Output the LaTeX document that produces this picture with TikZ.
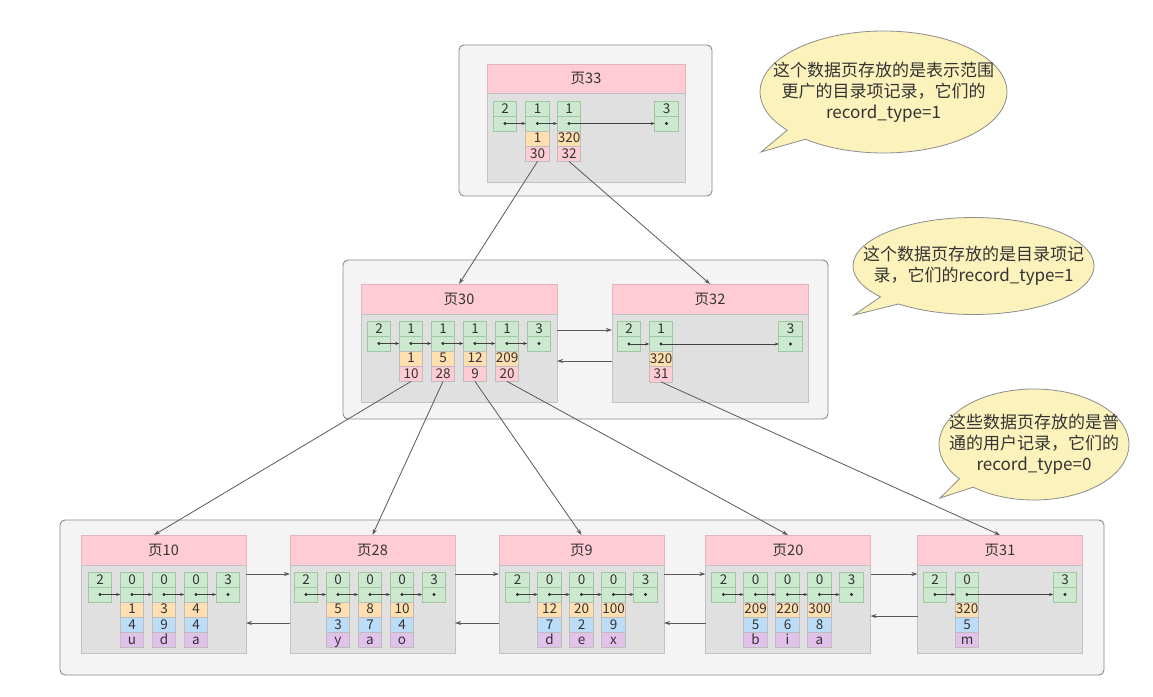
\documentclass[tikz,border=0pt]{standalone}
\usepackage{fontspec}
\setmainfont{Noto Sans CJK SC}
\usetikzlibrary{arrows.meta,positioning,shapes.multipart,shapes.callouts}
\definecolor{ink}{HTML}{333333}
\definecolor{wire}{HTML}{595959}
\definecolor{tierfill}{HTML}{F4F4F4}
\definecolor{tierline}{HTML}{8A8A8A}
\definecolor{headfill}{HTML}{FFCCD5}
\definecolor{headline}{HTML}{E3B4BD}
\definecolor{bodyfill}{HTML}{E0E0E0}
\definecolor{bodyline}{HTML}{C2C2C2}
\definecolor{recfill}{HTML}{CCE8CE}
\definecolor{recline}{HTML}{9FC8A2}
\definecolor{keyfill}{HTML}{FFDFB0}
\definecolor{pagefill}{HTML}{FFCCD5}
\definecolor{colfill}{HTML}{BCDDF8}
\definecolor{strfill}{HTML}{E2C2EA}
\definecolor{cellline}{HTML}{BDBDBD}
\definecolor{notefill}{HTML}{FBF2BC}
\definecolor{noteline}{HTML}{8C8C8C}
% fixed height of one value row
\newcommand\rowstrut{\rule[-3pt]{0pt}{14.5pt}}

\begin{document}
\begin{tikzpicture}[
  x=1pt, y=-1pt,
  font=\fontsize{13.5}{15}\selectfont, text=ink,
  tier/.style={draw=tierline, fill=tierfill, rounded corners=5pt, line width=0.9pt, inner sep=0pt},
  pghead/.style={draw=headline, fill=headfill, line width=0.8pt, inner sep=0pt, outer sep=0pt, minimum height=30, font=\fontsize{14.5}{16}\selectfont},
  pgbody/.style={draw=bodyline, fill=bodyfill, line width=0.8pt, inner sep=0pt, outer sep=0pt, minimum height=88},
  rectype/.style={draw=recline, fill=recfill, line width=0.7pt, inner sep=0pt, outer sep=0pt, minimum width=23.5, minimum height=15},
  recnext/.style={rectype, path picture={\fill[black!85] (path picture bounding box.center) circle (1.7);}},
  dirrec/.style={rectangle split, rectangle split parts=2, rectangle split part fill={keyfill,pagefill}, draw=cellline, line width=0.7pt, inner sep=0pt, outer sep=0pt, minimum width=23.5},
  userrec/.style={dirrec, rectangle split parts=3, rectangle split part fill={keyfill,colfill,strfill}},
  nextptr/.style={draw=black!75, line width=0.7pt, -{Stealth[length=4pt,width=3pt]}},
  pgptr/.style={draw=wire, line width=0.8pt, -{Stealth[length=6pt,width=4pt]}},
  bubble/.style={ellipse callout, draw=noteline, fill=notefill, line width=0.8pt, inner sep=0pt, callout pointer arc=12},
  bubbletext/.style={font=\fontsize{17}{21}\selectfont, align=center, text=ink}
]
\path[fill=white, use as bounding box] (0,0) rectangle (1153,696);

% levels
\node[tier, minimum width=253, minimum height=151] (tier2) at (585.5,120.5) {};
\node[tier, minimum width=485, minimum height=159] (tier1) at (585.5,339.5) {};
\node[tier, minimum width=1044, minimum height=155] (tier0) at (582,597.5) {};

% notes
\node[bubble, minimum width=247, minimum height=122, callout absolute pointer={(761,152)},
  label={[bubbletext]center:{这个数据页存放的是表示范围\\更广的目录项记录，它们的\\record\_type=1}}] (note2) at (883.5,92) {};
\node[bubble, minimum width=241, minimum height=97, callout absolute pointer={(854,315)},
  label={[bubbletext]center:{这个数据页存放的是目录项记\\录，它们的record\_type=1}}] (note1) at (973.5,266) {};
\node[bubble, minimum width=190, minimum height=111, callout absolute pointer={(940,498)},
  label={[bubbletext]center:{这些数据页存放的是普\\通的用户记录，它们的\\record\_type=0}}] (note0) at (1034,444.5) {};

% page 33
\node[pghead, minimum width=198, minimum height=29] (h33) at (586,78.5) {页33};
\node[pgbody, minimum width=198, minimum height=89, below=0pt of h33] (b33) {};
\node[rectype] (t33a) at (505,108.5) {2};
\node[rectype] (t33b) at (537.5,108.5) {1};
\node[rectype] (t33c) at (569,108.5) {1};
\node[rectype] (t33d) at (666.5,108.5) {3};
\node[recnext, below=0pt of t33a] (n33a) {};
\node[recnext, below=0pt of t33b] (n33b) {};
\node[recnext, below=0pt of t33c] (n33c) {};
\node[recnext, below=0pt of t33d] (n33d) {};
\node[dirrec, below=0pt of n33b] (d33b) {\rowstrut 1\nodepart{two}\rowstrut 30};
\node[dirrec, below=0pt of n33c] (d33c) {\rowstrut 320\nodepart{two}\rowstrut 32};
\draw[nextptr] (n33a.center) -- (n33b.west);
\draw[nextptr] (n33b.center) -- (n33c.west);
\draw[nextptr] (n33c.center) -- (n33d.west);

% page 30
\node[pghead, minimum width=196] (h30) at (459,299) {页30};
\node[pgbody, minimum width=196, below=0pt of h30] (b30) {};
\node[rectype] (t30a) at (379,328.5) {2};
\node[rectype, right=8.5pt of t30a] (t30b) {1};
\node[rectype, right=8.5pt of t30b] (t30c) {1};
\node[rectype, right=8.5pt of t30c] (t30d) {1};
\node[rectype, right=8.5pt of t30d] (t30e) {1};
\node[rectype, right=8.5pt of t30e] (t30f) {3};
\node[recnext, below=0pt of t30a] (n30a) {};
\node[recnext, below=0pt of t30b] (n30b) {};
\node[recnext, below=0pt of t30c] (n30c) {};
\node[recnext, below=0pt of t30d] (n30d) {};
\node[recnext, below=0pt of t30e] (n30e) {};
\node[recnext, below=0pt of t30f] (n30f) {};
\node[dirrec, below=0pt of n30b] (d30b) {\rowstrut 1\nodepart{two}\rowstrut 10};
\node[dirrec, below=0pt of n30c] (d30c) {\rowstrut 5\nodepart{two}\rowstrut 28};
\node[dirrec, below=0pt of n30d] (d30d) {\rowstrut 12\nodepart{two}\rowstrut 9};
\node[dirrec, below=0pt of n30e] (d30e) {\rowstrut 209\nodepart{two}\rowstrut 20};
\draw[nextptr] (n30a.center) -- (n30b.west);
\draw[nextptr] (n30b.center) -- (n30c.west);
\draw[nextptr] (n30c.center) -- (n30d.west);
\draw[nextptr] (n30d.center) -- (n30e.west);
\draw[nextptr] (n30e.center) -- (n30f.west);

% page 32
\node[pghead, minimum width=196] (h32) at (710,299) {页32};
\node[pgbody, minimum width=196, below=0pt of h32] (b32) {};
\node[rectype] (t32a) at (629,329) {2};
\node[rectype, right=8.5pt of t32a] (t32b) {1};
\node[rectype] (t32c) at (790.5,329) {3};
\node[recnext, below=0pt of t32a] (n32a) {};
\node[recnext, below=0pt of t32b] (n32b) {};
\node[recnext, below=0pt of t32c] (n32c) {};
\node[dirrec, below=0pt of n32b] (d32b) {\rowstrut 320\nodepart{two}\rowstrut 31};
\draw[nextptr] (n32a.center) -- (n32b.west);
\draw[nextptr] (n32b.center) -- (n32c.west);

% page 10
\node[pghead, minimum width=165] (h10) at (163.5,550) {页10};
\node[pgbody, minimum width=165, below=0pt of h10] (b10) {};
\node[rectype] (t10a) at (100,579.5) {2};
\node[rectype, right=8.5pt of t10a] (t10b) {0};
\node[rectype, right=8.5pt of t10b] (t10c) {0};
\node[rectype, right=8.5pt of t10c] (t10d) {0};
\node[rectype, right=8.5pt of t10d] (t10e) {3};
\node[recnext, below=0pt of t10a] (n10a) {};
\node[recnext, below=0pt of t10b] (n10b) {};
\node[recnext, below=0pt of t10c] (n10c) {};
\node[recnext, below=0pt of t10d] (n10d) {};
\node[recnext, below=0pt of t10e] (n10e) {};
\node[userrec, below=0pt of n10b] (d10b) {\rowstrut 1\nodepart{two}\rowstrut 4\nodepart{three}\rowstrut u};
\node[userrec, below=0pt of n10c] (d10c) {\rowstrut 3\nodepart{two}\rowstrut 9\nodepart{three}\rowstrut d};
\node[userrec, below=0pt of n10d] (d10d) {\rowstrut 4\nodepart{two}\rowstrut 4\nodepart{three}\rowstrut a};
\draw[nextptr] (n10a.center) -- (n10b.west);
\draw[nextptr] (n10b.center) -- (n10c.west);
\draw[nextptr] (n10c.center) -- (n10d.west);
\draw[nextptr] (n10d.center) -- (n10e.west);

% page 28
\node[pghead, minimum width=165] (h28) at (372.5,550) {页28};
\node[pgbody, minimum width=165, below=0pt of h28] (b28) {};
\node[rectype] (t28a) at (306,579.5) {2};
\node[rectype, right=8.5pt of t28a] (t28b) {0};
\node[rectype, right=8.5pt of t28b] (t28c) {0};
\node[rectype, right=8.5pt of t28c] (t28d) {0};
\node[rectype, right=8.5pt of t28d] (t28e) {3};
\node[recnext, below=0pt of t28a] (n28a) {};
\node[recnext, below=0pt of t28b] (n28b) {};
\node[recnext, below=0pt of t28c] (n28c) {};
\node[recnext, below=0pt of t28d] (n28d) {};
\node[recnext, below=0pt of t28e] (n28e) {};
\node[userrec, below=0pt of n28b] (d28b) {\rowstrut 5\nodepart{two}\rowstrut 3\nodepart{three}\rowstrut y};
\node[userrec, below=0pt of n28c] (d28c) {\rowstrut 8\nodepart{two}\rowstrut 7\nodepart{three}\rowstrut a};
\node[userrec, below=0pt of n28d] (d28d) {\rowstrut 10\nodepart{two}\rowstrut 4\nodepart{three}\rowstrut o};
\draw[nextptr] (n28a.center) -- (n28b.west);
\draw[nextptr] (n28b.center) -- (n28c.west);
\draw[nextptr] (n28c.center) -- (n28d.west);
\draw[nextptr] (n28d.center) -- (n28e.west);

% page 9
\node[pghead, minimum width=165] (h9) at (581.5,550) {页9};
\node[pgbody, minimum width=165, below=0pt of h9] (b9) {};
\node[rectype] (t9a) at (517.5,579.5) {2};
\node[rectype, right=8.5pt of t9a] (t9b) {0};
\node[rectype, right=8.5pt of t9b] (t9c) {0};
\node[rectype, right=8.5pt of t9c] (t9d) {0};
\node[rectype, right=8.5pt of t9d] (t9e) {3};
\node[recnext, below=0pt of t9a] (n9a) {};
\node[recnext, below=0pt of t9b] (n9b) {};
\node[recnext, below=0pt of t9c] (n9c) {};
\node[recnext, below=0pt of t9d] (n9d) {};
\node[recnext, below=0pt of t9e] (n9e) {};
\node[userrec, below=0pt of n9b] (d9b) {\rowstrut 12\nodepart{two}\rowstrut 7\nodepart{three}\rowstrut d};
\node[userrec, below=0pt of n9c] (d9c) {\rowstrut 20\nodepart{two}\rowstrut 2\nodepart{three}\rowstrut e};
\node[userrec, below=0pt of n9d] (d9d) {\rowstrut 100\nodepart{two}\rowstrut 9\nodepart{three}\rowstrut x};
\draw[nextptr] (n9a.center) -- (n9b.west);
\draw[nextptr] (n9b.center) -- (n9c.west);
\draw[nextptr] (n9c.center) -- (n9d.west);
\draw[nextptr] (n9d.center) -- (n9e.west);

% page 20
\node[pghead, minimum width=165] (h20) at (788,550) {页20};
\node[pgbody, minimum width=165, below=0pt of h20] (b20) {};
\node[rectype] (t20a) at (723.5,579.5) {2};
\node[rectype, right=8.5pt of t20a] (t20b) {0};
\node[rectype, right=8.5pt of t20b] (t20c) {0};
\node[rectype, right=8.5pt of t20c] (t20d) {0};
\node[rectype, right=8.5pt of t20d] (t20e) {3};
\node[recnext, below=0pt of t20a] (n20a) {};
\node[recnext, below=0pt of t20b] (n20b) {};
\node[recnext, below=0pt of t20c] (n20c) {};
\node[recnext, below=0pt of t20d] (n20d) {};
\node[recnext, below=0pt of t20e] (n20e) {};
\node[userrec, below=0pt of n20b] (d20b) {\rowstrut 209\nodepart{two}\rowstrut 5\nodepart{three}\rowstrut b};
\node[userrec, below=0pt of n20c] (d20c) {\rowstrut 220\nodepart{two}\rowstrut 6\nodepart{three}\rowstrut i};
\node[userrec, below=0pt of n20d] (d20d) {\rowstrut 300\nodepart{two}\rowstrut 8\nodepart{three}\rowstrut a};
\draw[nextptr] (n20a.center) -- (n20b.west);
\draw[nextptr] (n20b.center) -- (n20c.west);
\draw[nextptr] (n20c.center) -- (n20d.west);
\draw[nextptr] (n20d.center) -- (n20e.west);

% page 31
\node[pghead, minimum width=165] (h31) at (1000,550) {页31};
\node[pgbody, minimum width=165, below=0pt of h31] (b31) {};
\node[rectype] (t31a) at (935,579.5) {2};
\node[rectype, right=8.5pt of t31a] (t31b) {0};
\node[rectype] (t31c) at (1065,579.5) {3};
\node[recnext, below=0pt of t31a] (n31a) {};
\node[recnext, below=0pt of t31b] (n31b) {};
\node[recnext, below=0pt of t31c] (n31c) {};
\node[userrec, below=0pt of n31b] (d31b) {\rowstrut 320\nodepart{two}\rowstrut 5\nodepart{three}\rowstrut m};
\draw[nextptr] (n31a.center) -- (n31b.west);
\draw[nextptr] (n31b.center) -- (n31c.west);

% sibling pages
\draw[pgptr] ([yshift=-16pt]b30.north east) -- ([yshift=-16pt]b32.north west);
\draw[pgptr] ([yshift=-47pt]b32.north west) -- ([yshift=-47pt]b30.north east);
\draw[pgptr] ([yshift=-9pt]b10.north east) -- ([yshift=-9pt]b28.north west);
\draw[pgptr] ([yshift=-9pt]b28.north east) -- ([yshift=-9pt]b9.north west);
\draw[pgptr] ([yshift=-9pt]b9.north east) -- ([yshift=-9pt]b20.north west);
\draw[pgptr] ([yshift=-9pt]b20.north east) -- ([yshift=-9pt]b31.north west);
\draw[pgptr] ([yshift=-58pt]b28.north west) -- ([yshift=-58pt]b10.north east);
\draw[pgptr] ([yshift=-58pt]b9.north west) -- ([yshift=-58pt]b28.north east);
\draw[pgptr] ([yshift=-58pt]b20.north west) -- ([yshift=-58pt]b9.north east);
\draw[pgptr] ([yshift=-51pt]b31.north west) -- ([yshift=-51pt]b20.north east);

% child pages
\draw[pgptr] (d33b.south) -- (h30.north);
\draw[pgptr] (d33c.south) -- (h32.north);
\draw[pgptr] (d30b.south) -- ([xshift=-9.5pt]h10.north);
\draw[pgptr] (d30c.south) -- (h28.north);
\draw[pgptr] (d30d.south) -- (h9.north);
\draw[pgptr] (d30e.south) -- (h20.north);
\draw[pgptr] (d32b.south) -- (h31.north);

\end{tikzpicture}
\end{document}
